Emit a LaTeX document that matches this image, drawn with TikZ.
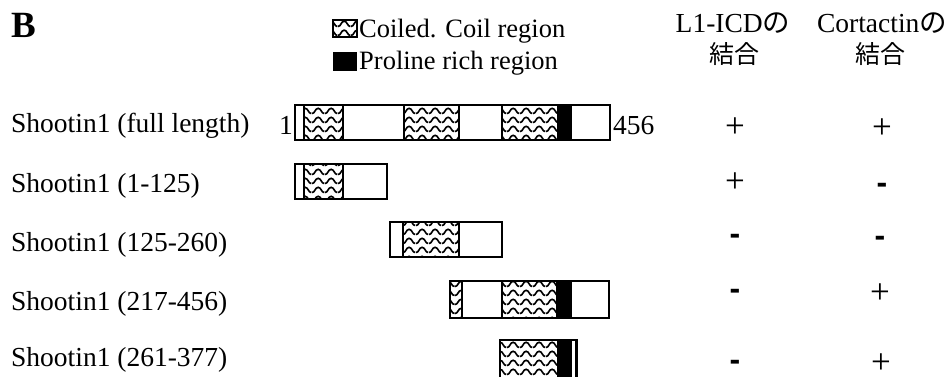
\documentclass[tikz,border=0pt]{standalone}
\usepackage{fontspec}
\setmainfont{Liberation Serif}
\newfontfamily\jpfont{Noto Sans CJK JP}
\newfontfamily\sansfont{Liberation Sans}
\usetikzlibrary{patterns}
\pgfdeclarepatternformonly{coilwave}{\pgfqpoint{0pt}{0pt}}{\pgfqpoint{13pt}{8.7pt}}{\pgfqpoint{13pt}{8.7pt}}{%
  \pgfsetlinewidth{1.7pt}%
  \pgfpathmoveto{\pgfqpoint{0pt}{1.5pt}}%
  \pgfpathcurveto{\pgfqpoint{3.2pt}{1.5pt}}{\pgfqpoint{3.2pt}{6.8pt}}{\pgfqpoint{6.5pt}{6.8pt}}%
  \pgfpathcurveto{\pgfqpoint{9.8pt}{6.8pt}}{\pgfqpoint{9.8pt}{1.5pt}}{\pgfqpoint{13pt}{1.5pt}}%
  \pgfusepath{stroke}%
}
\tikzset{
  txt/.style={inner sep=0pt, font=\fontsize{27.5}{30}\selectfont},
  legtxt/.style={inner sep=0pt, font=\fontsize{26.5}{30}\selectfont, anchor=west},
  rowlabel/.style={txt, anchor=base west},
  jp/.style={inner sep=0pt, font=\jpfont\fontsize{25}{30}\selectfont},
  plus/.style={inner sep=0pt, font=\fontsize{35}{36}\selectfont},
  minus/.style={inner sep=0pt, font=\sansfont\bfseries\fontsize{32}{34}\selectfont},
  coil/.style={pattern=coilwave},
  outer/.style={draw=black, line width=2.8pt},
  divider/.style={draw=black, line width=2.2pt},
}
\begin{document}
\begin{tikzpicture}[x=1pt,y=-1pt]
\useasboundingbox (0,0) rectangle (950,376);
\clip (0,0) rectangle (950,376);
\fill[white] (0,0) rectangle (950,376);

% panel letter
\node[inner sep=0pt, font=\bfseries\fontsize{37}{40}\selectfont] (B) at (24,25) {B};

% legend
\path[coil] (333,20) rectangle (357,37);
\draw[line width=1.6pt] (333,20) rectangle (357,37);
\fill (333,52) rectangle (357,71);
\node[legtxt] (legcoil) at (359,31) {Coiled. Coil region};
\node[legtxt] (legpro) at (359,63) {Proline rich region};

% headers
\node[txt] (h1a) at (733,23) {L1-ICD{\jpfont の}};
\node[jp] (h1c) at (734,54) {結合};
\node[txt] (h2a) at (882,23) {Cortactin{\jpfont の}};
\node[jp] (h2c) at (880,54) {結合};

% row labels
\node[rowlabel] (r1) at (11,132) {Shootin1 (full length)};
\node[rowlabel] (r2) at (11,192) {Shootin1 (1-125)};
\node[rowlabel] (r3) at (11,251) {Shootin1 (125-260)};
\node[rowlabel] (r4) at (11,310) {Shootin1 (217-456)};
\node[rowlabel] (r5) at (11,366) {Shootin1 (261-377)};

% row 1: full length
\path[coil] (304,105) rectangle (343,140);
\path[coil] (404,105) rectangle (459,140);
\path[coil] (502,105) rectangle (558,140);
\fill (558,105) rectangle (571,140);
\foreach \x in {304,343,404,459,502,558,571} \draw[divider] (\x,105) -- (\x,140);
\draw[outer] (295,105) rectangle (610,140);
\node[txt, anchor=base east] (n1) at (293,134) {1};
\node[txt, anchor=base west] (n456) at (613,134) {456};

% row 2: 1-125
\path[coil] (304,164) rectangle (343,199);
\foreach \x in {304,343} \draw[divider] (\x,164) -- (\x,199);
\draw[outer] (295,164) rectangle (387,199);

% row 3: 125-260
\path[coil] (403,222) rectangle (459,257);
\foreach \x in {403,459} \draw[divider] (\x,222) -- (\x,257);
\draw[outer] (390,222) rectangle (502,257);

% row 4: 217-456
\path[coil] (450,281) rectangle (462,318);
\path[coil] (502,281) rectangle (557,318);
\fill (557,281) rectangle (571,318);
\foreach \x in {462,502,557,571} \draw[divider] (\x,281) -- (\x,318);
\draw[outer] (450,281) rectangle (609,318);

% row 5: 261-377
\path[coil] (500,340) rectangle (557,380);
\fill (557,340) rectangle (571.5,380);
\draw[outer] (500,380) -- (500,340) -- (576.5,340) -- (576.5,380);

% binding results
\node[plus] (a1) at (735,128) {+};
\node[plus] (a2) at (735,183) {+};
\node[minus] (a3) at (735,239) {-};
\node[minus] (a4) at (735,294) {-};
\node[minus] (a5) at (735,365) {-};
\node[plus] (c1) at (882,129) {+};
\node[minus] (c2) at (882,188) {-};
\node[minus] (c3) at (880,241) {-};
\node[plus] (c4) at (880,294) {+};
\node[plus] (c5) at (881,364) {+};
\end{tikzpicture}
\end{document}
